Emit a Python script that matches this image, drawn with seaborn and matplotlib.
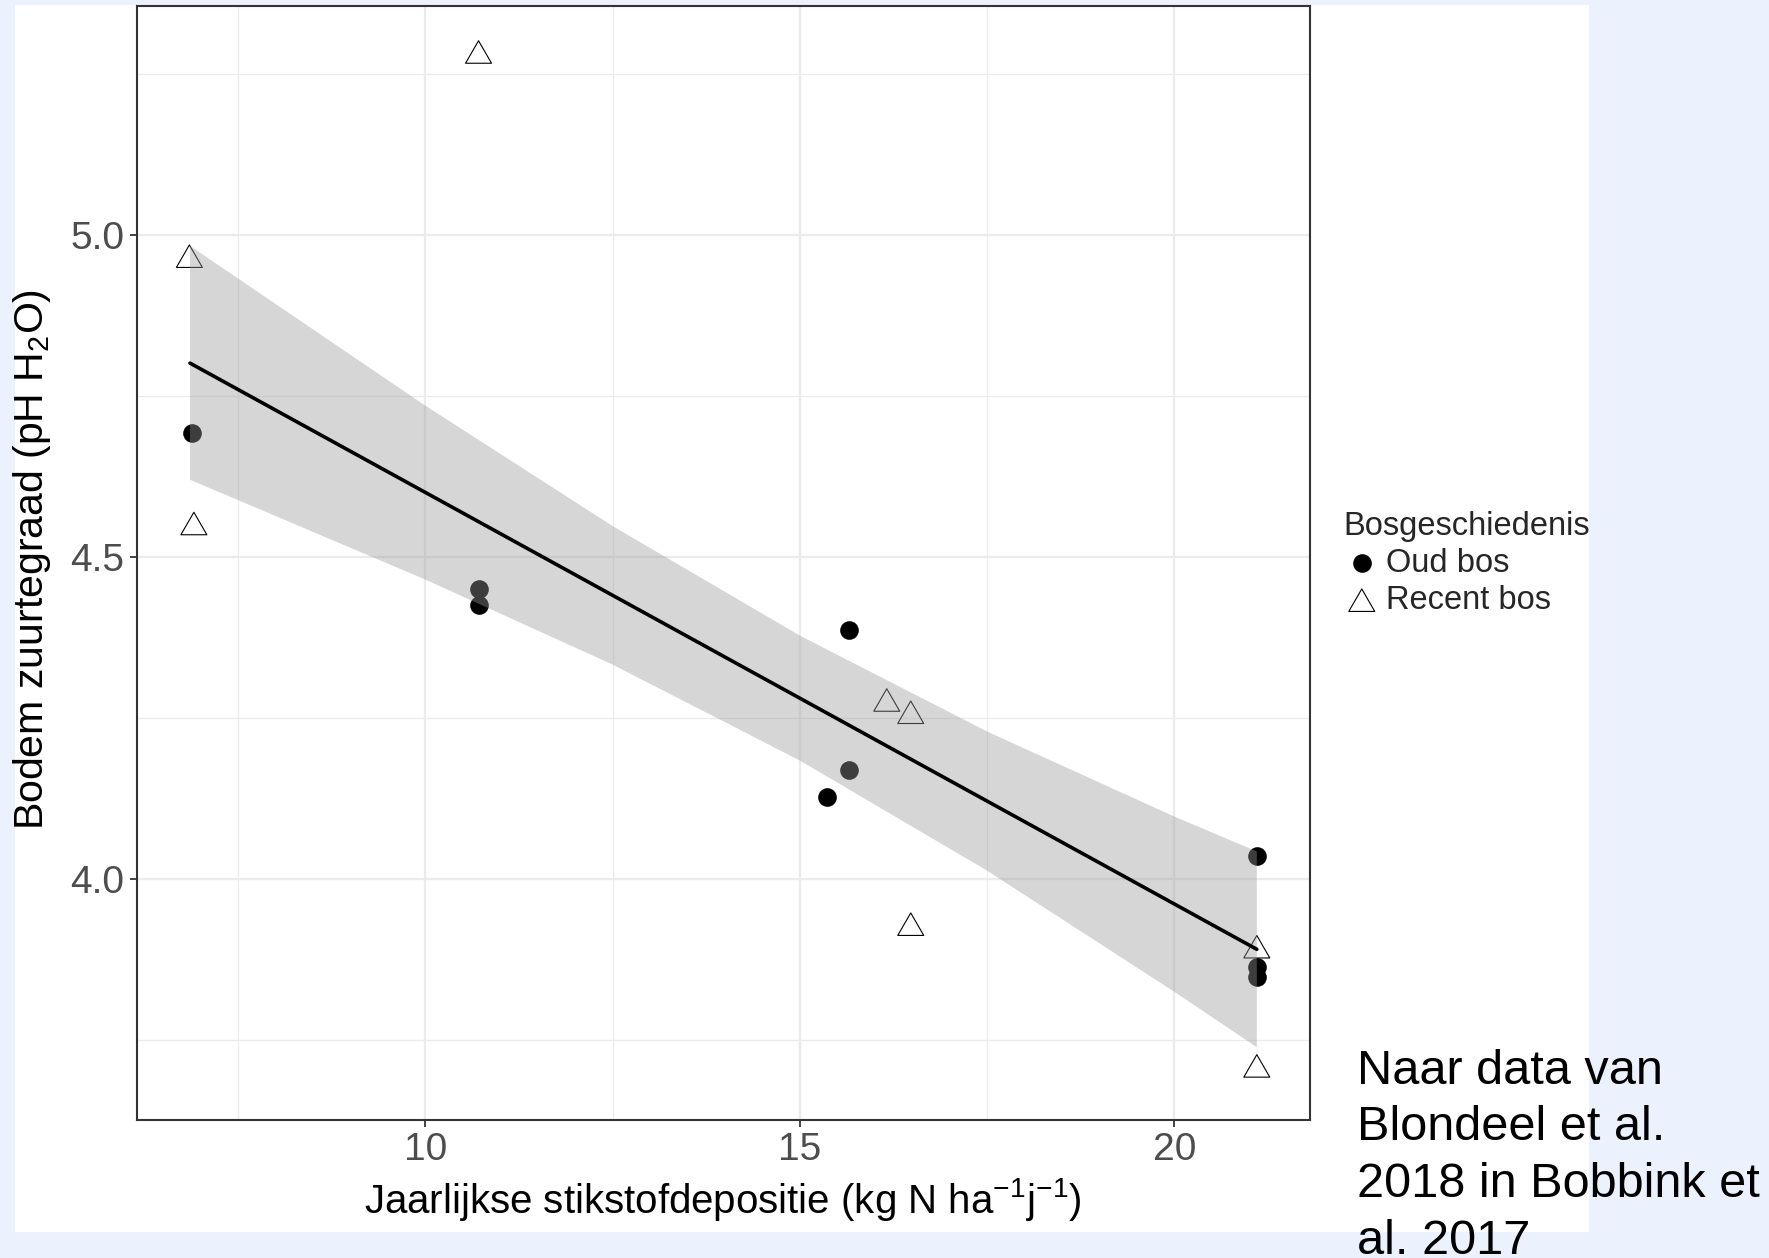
import matplotlib
matplotlib.use("Agg")
import matplotlib.pyplot as plt
import matplotlib.path as mpath
import seaborn as sns
import pandas as pd
import numpy as np
from matplotlib.patches import Rectangle
from matplotlib.ticker import MultipleLocator, FormatStrFormatter

# stikstofdepositie (kg N/ha/j) en bodem-pH per proefvlak
oud_x = [6.88, 10.71, 10.71, 15.66, 15.66, 15.36, 21.10, 21.10, 21.10]
oud_y = [4.692, 4.450, 4.426, 4.387, 4.170, 4.128, 4.036, 3.864, 3.848]
recent_x = [10.71, 6.85, 6.91, 16.16, 16.48, 16.48, 21.10, 21.10]
recent_y = [5.284, 4.967, 4.552, 4.278, 4.259, 3.930, 3.895, 3.710]
groepen = ["Oud bos", "Recent bos"]

# lineaire trend met 95%-betrouwbaarheidsband
trend_x = [6.858, 21.10]
trend_y = [4.801, 3.891]
band_x = [6.858, 10.0, 12.5, 15.0, 17.5, 20.0, 21.10]
band_onder = [4.620, 4.465, 4.333, 4.184, 4.013, 3.825, 3.739]
band_boven = [4.983, 4.735, 4.548, 4.378, 4.229, 4.097, 4.043]

x_ticks = [10, 15, 20]
y_ticks = [4.0, 4.5, 5.0]

df = pd.DataFrame({
    "depositie": oud_x + recent_x,
    "ph": oud_y + recent_y,
    "Bosgeschiedenis": [groepen[0]] * len(oud_x) + [groepen[1]] * len(recent_x),
})

C_ACHTERGROND = "#ebf1fd"
C_GRID = "#ebebeb"
C_RAND = "#333333"
C_TICKTEKST = "#4d4d4d"

sns.set_theme(style="white")
plt.rcParams["font.family"] = ["Liberation Sans", "DejaVu Sans"]
plt.rcParams["mathtext.fontset"] = "custom"
plt.rcParams["mathtext.rm"] = "Liberation Sans"
plt.rcParams["mathtext.default"] = "regular"

fig = plt.figure(figsize=(17.69, 12.58), dpi=100, facecolor=C_ACHTERGROND)
W, H = 1769, 1258
# wit dia-vlak achter de grafiek
fig.patches.append(Rectangle((15 / W, 1 - 1232 / H), (1589 - 15) / W, (1232 - 5) / H,
                             transform=fig.transFigure, facecolor="white", edgecolor="none", zorder=-5))

ax = fig.add_axes([136.5 / W, 1 - 1120 / H, (1310 - 136.5) / W, (1120 - 5.6) / H])
ax.set_facecolor("white")

driehoek = mpath.Path([(0, 0.866), (-1, -0.866), (1, -0.866), (0, 0.866)], closed=True)

oud = df[df["Bosgeschiedenis"] == groepen[0]]
recent = df[df["Bosgeschiedenis"] == groepen[1]]
sns.scatterplot(data=oud, x="depositie", y="ph", marker="o", color="black",
                s=180, linewidth=0, ax=ax, label=groepen[0], legend=False)
sns.scatterplot(data=recent, x="depositie", y="ph", marker=driehoek, facecolor="none",
                edgecolor="black", s=350, linewidth=0.8, ax=ax, label=groepen[1], legend=False)
punten = list(ax.collections[:2])
punten[1].set_facecolor("none")

# band over de punten heen, zoals in ggplot
ax.fill_between(band_x, band_onder, band_boven, facecolor="#999999", alpha=0.4, edgecolor="none")
sns.lineplot(x=trend_x, y=trend_y, color="black", linewidth=2.6, ax=ax)

ax.set_xlim(6.144, 21.81)
ax.set_ylim(3.626, 5.356)
ax.set_xticks(x_ticks)
ax.set_yticks(y_ticks)
ax.yaxis.set_major_formatter(FormatStrFormatter("%.1f"))
ax.xaxis.set_minor_locator(MultipleLocator(2.5))
ax.yaxis.set_minor_locator(MultipleLocator(0.25))
ax.grid(which="major", color=C_GRID, linewidth=1.6)
ax.grid(which="minor", color=C_GRID, linewidth=0.9)
ax.set_axisbelow(True)
for s in ax.spines.values():
    s.set_color(C_RAND)
    s.set_linewidth(1.5)
ax.tick_params(which="major", length=5, width=1.3, color=C_RAND, labelcolor=C_TICKTEKST,
               labelsize=28, pad=4, bottom=True, left=True)
ax.tick_params(which="minor", length=0)

ax.set_xlabel("Jaarlijkse stikstofdepositie (kg N ha$^{-1}$j$^{-1}$)", fontsize=29, color="black")
ax.set_ylabel("Bodem zuurtegraad (pH H$_2$O)", fontsize=29.5, color="black")
ax.xaxis.set_label_coords(0.5, -0.050)
ax.yaxis.set_label_coords(-0.071, 0.503)

leg = ax.legend(handles=punten, labels=groepen, title="Bosgeschiedenis",
                loc="upper left", bbox_to_anchor=(1343 / W, 1 - 511 / H),
                bbox_transform=fig.transFigure, frameon=False, fontsize=23.5, title_fontsize=23.5,
                handlelength=1.15, handletextpad=0.17, labelspacing=0.18, borderpad=0,
                borderaxespad=0, alignment="left")

fig.text(1357 / W, 1 - 1253.5 / H, "Naar data van\nBlondeel et al.\n2018 in Bobbink et\nal. 2017",
         fontsize=35, color="black", ha="left", va="baseline", linespacing=1.33)

fig.savefig("out.png", dpi=100, facecolor=fig.get_facecolor())
